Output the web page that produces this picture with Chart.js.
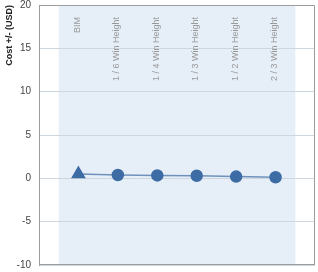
<!DOCTYPE html>
<html>
<head>
<meta charset="utf-8">
<script src="https://cdn.jsdelivr.net/npm/chart.js@4.4.0/dist/chart.umd.min.js"></script>
<style>
  html, body { margin: 0; padding: 0; background: #fff; }
  #wrap { width: 318px; height: 272px; }
</style>
</head>
<body>
<div id="wrap"><canvas id="costChart" width="318" height="272"></canvas></div>
<script>
var categories = ["BIM", "1 / 6 Win Height", "1 / 4 Win Height", "1 / 3 Win Height", "1 / 2 Win Height", "2 / 3 Win Height"];
var costValues = [0.5, 0.38, 0.34, 0.3, 0.2, 0.12];
var markerStyles = ["triangle", "circle", "circle", "circle", "circle", "circle"];
var yTicks = [-10, -5, 0, 5, 10, 15, 20];

var points = [];
for (var i = 0; i < costValues.length; i++) {
    points.push({ x: i + 1, y: costValues[i] });
}

// light band behind the categories + frame + rotated category names
const bandPlugin = {
    id: 'band_and_labels',
    beforeDraw: (chart) => {
        const {ctx, chartArea, scales} = chart;
        const x0 = scales.x.getPixelForValue(0.5);
        const x1 = scales.x.getPixelForValue(categories.length + 0.5);
        ctx.save();
        ctx.fillStyle = '#e6eef8';
        ctx.fillRect(x0, chartArea.top, x1 - x0, chartArea.bottom - chartArea.top);
        ctx.restore();
    },
    afterDatasetsDraw: (chart) => {
        const {ctx, chartArea, scales} = chart;
        ctx.save();
        ctx.font = '9px "Liberation Sans", Arial, sans-serif';
        ctx.fillStyle = '#9a9a9a';
        ctx.textAlign = 'right';
        ctx.textBaseline = 'middle';
        for (var i = 0; i < categories.length; i++) {
            const px = scales.x.getPixelForValue(i + 1) - 1;
            ctx.save();
            ctx.translate(px, chartArea.top + 12);
            ctx.rotate(-Math.PI / 2);
            ctx.fillText(categories[i], 0, 0);
            ctx.restore();
        }
        ctx.strokeStyle = '#9c9c9c';
        ctx.lineWidth = 1;
        ctx.beginPath();
        ctx.moveTo(chartArea.left, chartArea.top + 0.5);
        ctx.lineTo(chartArea.right - 0.5, chartArea.top + 0.5);
        ctx.lineTo(chartArea.right - 0.5, chartArea.bottom);
        ctx.moveTo(chartArea.left, chartArea.bottom - 0.5);
        ctx.lineTo(chartArea.right, chartArea.bottom - 0.5);
        ctx.stroke();
        ctx.restore();
    }
};

new Chart("costChart", {
    type: "line",
    plugins: [bandPlugin],
    data: {
        datasets: [{
            data: points,
            borderColor: '#6f92bd',
            borderWidth: 1.5,
            backgroundColor: '#3d6ca5',
            pointBackgroundColor: '#3d6ca5',
            pointBorderColor: '#3d6ca5',
            pointStyle: markerStyles,
            pointRadius: [7, 5.5, 5.5, 5.5, 5.5, 5.5],
            pointHoverRadius: 6,
            tension: 0
        }]
    },
    options: {
        responsive: false,
        animation: false,
        layout: { autoPadding: false, padding: { top: 5, right: 3, bottom: 7, left: 0 } },
        plugins: {
            legend: { display: false },
            tooltip: { enabled: false }
        },
        scales: {
            x: {
                type: 'linear',
                min: 0,
                max: categories.length + 1,
                display: false
            },
            y: {
                min: yTicks[0],
                max: yTicks[yTicks.length - 1],
                afterBuildTicks: (scale) => {
                    scale.ticks = yTicks.map(v => ({ value: v }));
                },
                afterFit: (scale) => {
                    scale.width = 39;
                    scale.paddingTop = 0;
                    scale.paddingBottom = 0;
                },
                grid: { color: '#cdd5de', drawTicks: false },
                border: { color: '#9c9c9c', width: 1 },
                ticks: {
                    padding: 8,
                    color: '#444',
                    font: { family: '"Liberation Sans", Arial, sans-serif', size: 10 }
                },
                title: {
                    display: true,
                    text: 'Cost +/- (USD)',
                    align: 'end',
                    color: '#222',
                    padding: { top: 4, bottom: 0 },
                    font: { family: '"Liberation Sans Narrow", "Liberation Sans", Arial, sans-serif', size: 9, weight: 'bold' }
                }
            }
        }
    }
});
</script>
</body>
</html>
